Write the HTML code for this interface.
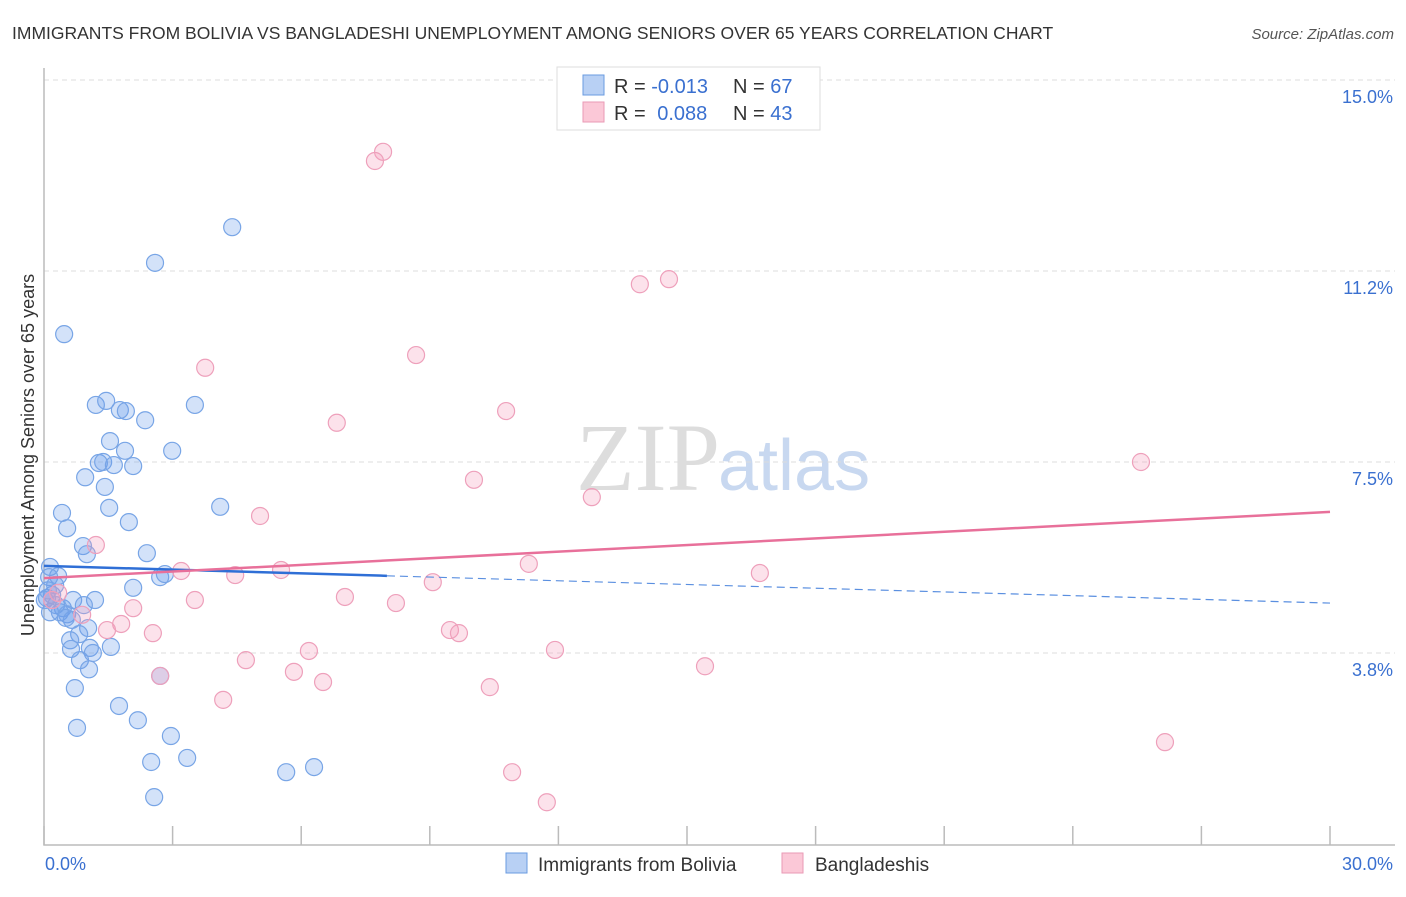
<!DOCTYPE html>
<html><head><meta charset="utf-8"><style>
body{margin:0;background:#fff;font-family:"Liberation Sans",sans-serif;}
svg text{font-family:"Liberation Sans",sans-serif;}
</style></head><body>
<svg id="chart" width="1406" height="892" xmlns="http://www.w3.org/2000/svg">
<text x="12" y="39" font-size="17.5" fill="#333">IMMIGRANTS FROM BOLIVIA VS BANGLADESHI UNEMPLOYMENT AMONG SENIORS OVER 65 YEARS CORRELATION CHART</text>
<text x="1394" y="39" font-size="15" fill="#555" font-style="italic" text-anchor="end">Source: ZipAtlas.com</text>
<text x="720" y="490" font-size="96" fill="#ddd" text-anchor="end" font-family="Liberation Serif" style="font-family:'Liberation Serif',serif">ZIP</text>
<text x="718" y="490" font-size="72" fill="#c8d8f0">atlas</text>
<g id="grid"></g>
<g id="axes"></g>
<g id="marks"></g>
<text transform="translate(34,455) rotate(-90)" font-size="18" fill="#333" text-anchor="middle">Unemployment Among Seniors over 65 years</text>
<g>
<rect x="557" y="67" width="263" height="63" fill="#fff" stroke="#ddd"/>
<rect x="583" y="75" width="21" height="20" fill="#b8d0f4" stroke="#6a9be0"/>
<rect x="583" y="102" width="21" height="20" fill="#fbc8d7" stroke="#ea9ab5"/>
<text x="614" y="93" font-size="20" fill="#333">R = <tspan fill="#3a70d0">-0.013</tspan></text>
<text x="733" y="93" font-size="20" fill="#333">N = <tspan fill="#3a70d0">67</tspan></text>
<text x="614" y="120" font-size="20" fill="#333">R = <tspan fill="#3a70d0" dx="6">0.088</tspan></text>
<text x="733" y="120" font-size="20" fill="#333">N = <tspan fill="#3a70d0">43</tspan></text>
</g>
<g>
<rect x="506" y="853" width="21" height="20" fill="#b8d0f4" stroke="#6a9be0"/>
<text x="538" y="871" font-size="19" fill="#333">Immigrants from Bolivia</text>
<rect x="782" y="853" width="21" height="20" fill="#fbc8d7" stroke="#ea9ab5"/>
<text x="815" y="871" font-size="19" fill="#333">Bangladeshis</text>
</g>
</svg>
<script>
const xTicks=[0,3,6,9,12,15,18,21,24,27,30];
const yTicks=[3.75,7.5,11.25,15];
const yTickLabels=["3.8%","7.5%","11.2%","15.0%"];
const xEndLabels=["0.0%","30.0%"];
const boliviaX=[0.47,2.59,4.39,1.21,1.45,1.77,1.91,2.36,3.52,1.54,1.89,2.99,1.28,1.38,1.63,2.08,0.96,1.42,1.52,0.42,4.11,0.54,1.98,0.91,1.00,2.40,0.14,0.33,2.71,2.82,2.08,0.12,0.19,0.07,0.28,0.44,0.68,1.19,0.93,0.14,0.37,0.54,0.65,1.03,0.82,0.61,0.63,1.07,1.14,1.56,0.84,1.05,2.71,0.72,1.75,2.19,0.77,2.96,2.50,3.34,5.65,6.30,2.57,0.02,0.26,0.09,0.51];
const boliviaY=[10.01,11.41,12.11,8.62,8.70,8.52,8.50,8.32,8.62,7.91,7.72,7.72,7.48,7.50,7.44,7.42,7.20,7.01,6.60,6.50,6.62,6.20,6.32,5.85,5.69,5.71,5.44,5.26,5.24,5.30,5.03,5.24,4.89,4.83,4.69,4.63,4.79,4.79,4.69,4.55,4.55,4.51,4.40,4.24,4.12,4.00,3.83,3.85,3.75,3.87,3.61,3.43,3.30,3.06,2.71,2.43,2.28,2.12,1.61,1.69,1.41,1.51,0.92,4.79,5.08,4.98,4.44];
const bangX=[7.91,7.72,13.90,14.58,8.68,3.76,10.78,6.83,25.59,10.03,12.78,5.04,1.21,3.20,4.46,5.53,11.31,16.70,9.07,3.52,2.08,7.02,8.21,0.89,1.80,1.47,2.54,9.47,9.68,4.71,6.18,11.92,15.42,2.71,5.83,6.51,10.40,4.18,26.15,10.92,11.73,0.33,0.19];
const bangY=[13.59,13.41,10.99,11.09,9.60,9.35,8.50,8.27,7.50,7.15,6.81,6.44,5.87,5.36,5.28,5.38,5.50,5.32,5.14,4.79,4.63,4.85,4.73,4.50,4.32,4.20,4.14,4.20,4.14,3.61,3.79,3.81,3.49,3.30,3.38,3.18,3.08,2.83,2.00,1.41,0.82,4.93,4.79];
const boliviaTrend=[5.46,4.73]; // value at x=0 and x=30
const bangTrend=[5.22,6.52];
const boliviaSolidEnd=8.0;

const NS="http://www.w3.org/2000/svg";
function sx(v){return 44+v*(1330-44)/30;}
function sy(v){return 844-v*(844-80)/15;}
function mk(tag,attrs,parent){const e=document.createElementNS(NS,tag);for(const k in attrs)e.setAttribute(k,attrs[k]);parent.appendChild(e);return e;}
const grid=document.getElementById('grid'),axes=document.getElementById('axes'),marks=document.getElementById('marks');
yTicks.forEach((t,i)=>{
  const l=mk('line',{x1:44,x2:1395,y1:sy(t),y2:sy(t),stroke:'#ddd','stroke-dasharray':'5,4'},grid);
  
  
  const tx=mk('text',{x:1393,y:sy(t)+23,'font-size':18,fill:'#3a70d0','text-anchor':'end'},axes);
  tx.textContent=yTickLabels[i];
  
  
});
const ax=mk('path',{d:'M44,68 V845 H1395',fill:'none',stroke:'#bbb','stroke-width':1.5},axes);


xTicks.forEach(t=>{
  const l=mk('line',{x1:sx(t),x2:sx(t),y1:826,y2:845,stroke:'#bbb','stroke-width':1.5},axes);
  
  
});
[[0,'start'],[30,'end']].forEach((p,i)=>{
  const tx=mk('text',{x:i==0?45:1393,y:870,'font-size':18,fill:'#3a70d0','text-anchor':p[1]},axes);
  tx.textContent=xEndLabels[i];
  
  
});
boliviaX.forEach((x,i)=>{
  const c=mk('circle',{cx:sx(x),cy:sy(boliviaY[i]),r:8.5,fill:'rgba(110,160,235,0.3)',stroke:'#78a5e6','stroke-width':1.2},marks);
  
  
});
bangX.forEach((x,i)=>{
  const c=mk('circle',{cx:sx(x),cy:sy(bangY[i]),r:8.5,fill:'rgba(245,160,190,0.3)',stroke:'#eea0bb','stroke-width':1.2},marks);
  
  
});
function by(tr,x){return tr[0]+(tr[1]-tr[0])*x/30;}
const l1=mk('line',{x1:sx(0),y1:sy(by(boliviaTrend,0)),x2:sx(boliviaSolidEnd),y2:sy(by(boliviaTrend,boliviaSolidEnd)),stroke:'#2f6fd6','stroke-width':2.5},marks);


const l2=mk('line',{x1:sx(boliviaSolidEnd),y1:sy(by(boliviaTrend,boliviaSolidEnd)),x2:sx(30),y2:sy(by(boliviaTrend,30)),stroke:'#5a8fe0','stroke-width':1.2,'stroke-dasharray':'8,5'},marks);


const l3=mk('line',{x1:sx(0),y1:sy(by(bangTrend,0)),x2:sx(30),y2:sy(by(bangTrend,30)),stroke:'#e8709a','stroke-width':2.5},marks);


</script>
</body></html>
